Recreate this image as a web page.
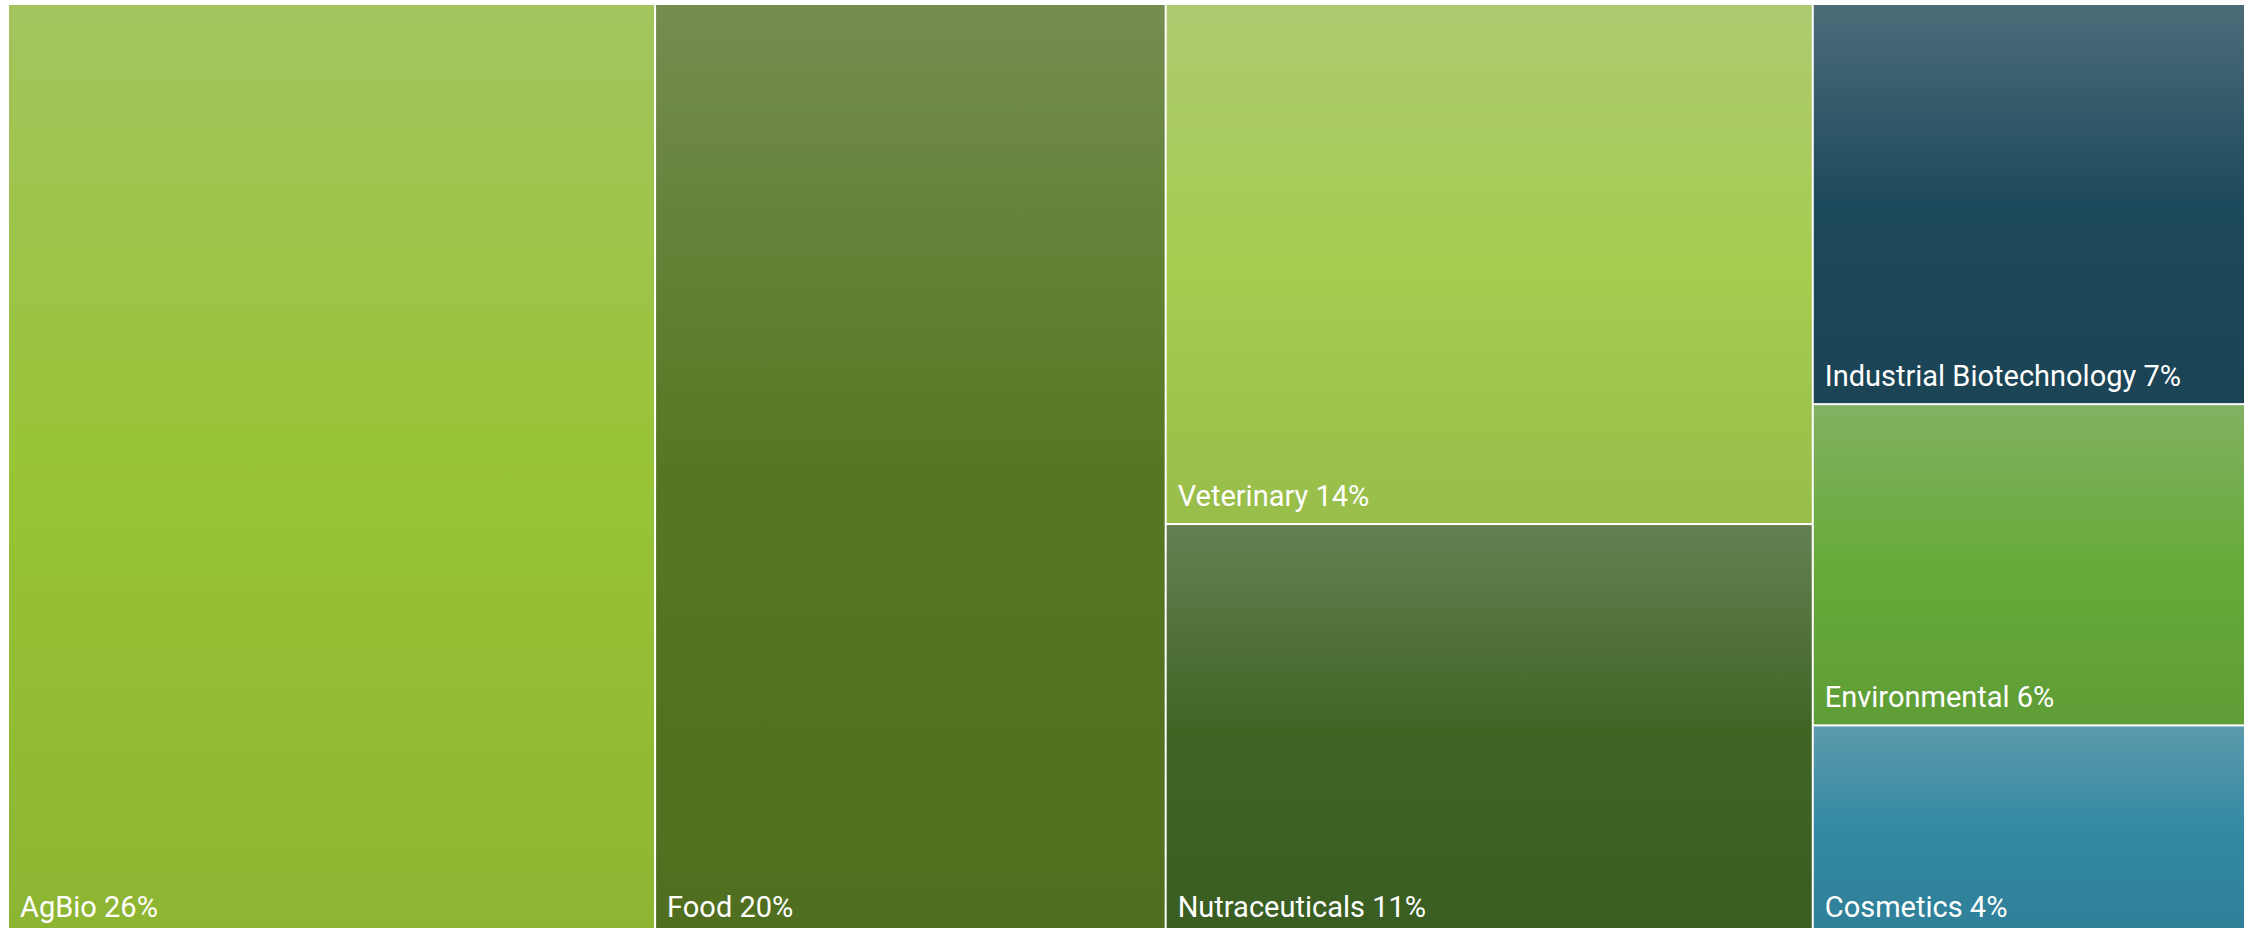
<!DOCTYPE html>
<html>
<head>
<meta charset="utf-8" />
<script src="https://cdn.jsdelivr.net/npm/d3@7"></script>
<style>
  body { margin: 0; background: #fff; }
  svg { display: block; }
</style>
</head>
<body>
<div id="chart"></div>
<script>
// data (shares, labels rounded)
const sectors = ["AgBio", "Food", "Veterinary", "Nutraceuticals", "Industrial Biotechnology", "Environmental", "Cosmetics"];
const shares = [25.6, 20.2, 14.3, 11.3, 7.35, 5.9, 3.85];
const baseColors = ["#98c436", "#567722", "#a6cc50", "#3f6525", "#1d4a5c", "#67aa3a", "#3389a3"];

const drawTreemap = () => {
  let dimensions = {
    width: 2252,
    height: 928,
    margin: { top: 5, left: 9 },
    ctrWidth: 2235,
    ctrHeight: 929,
  };

  const svg = d3
    .select("#chart")
    .append("svg")
    .attr("width", dimensions.width)
    .attr("height", dimensions.height);

  const defs = svg.append("defs");

  const root = d3
    .hierarchy({ children: sectors.map((name, i) => ({ name, value: shares[i], i })) })
    .sum((d) => d.value || 0)
    .sort((a, b) => b.value - a.value);

  d3
    .treemap()
    .tile(d3.treemapSquarify.ratio(1))
    .size([dimensions.ctrWidth, dimensions.ctrHeight])
    .paddingInner(2)
    .round(false)(root);

  // gradients: greyish light top -> base -> slightly darker bottom
  const grads = defs
    .selectAll("linearGradient")
    .data(root.leaves())
    .join("linearGradient")
    .attr("id", (d) => "g" + d.data.i)
    .attr("x1", 0)
    .attr("y1", 0)
    .attr("x2", 0)
    .attr("y2", 1);

  grads
    .append("stop")
    .attr("offset", "0%")
    .attr("stop-color", (d) => d3.interpolateRgb(baseColors[d.data.i], "#c4c4c4")(0.28));
  grads
    .append("stop")
    .attr("offset", "50%")
    .attr("stop-color", (d) => baseColors[d.data.i]);
  grads
    .append("stop")
    .attr("offset", "100%")
    .attr("stop-color", (d) => d3.color(baseColors[d.data.i]).darker(0.22));

  const ctr = svg
    .append("g")
    .attr("transform", `translate(${dimensions.margin.left},${dimensions.margin.top})`);

  const cells = ctr
    .selectAll("g")
    .data(root.leaves())
    .join("g")
    .attr("transform", (d) => `translate(${d.x0},${d.y0})`);

  cells
    .append("rect")
    .attr("width", (d) => d.x1 - d.x0)
    .attr("height", (d) => d.y1 - d.y0)
    .attr("fill", (d) => `url(#g${d.data.i})`);

  cells
    .append("text")
    .attr("x", 11)
    .attr("y", (d) => d.y1 - d.y0 - 17)
    .attr("fill", "#ffffff")
    .style("font-family", "Roboto, sans-serif")
    .style("font-size", "29px")
    .text((d) => `${d.data.name} ${Math.round(d.data.value)}%`);
};

drawTreemap();
</script>
</body>
</html>
